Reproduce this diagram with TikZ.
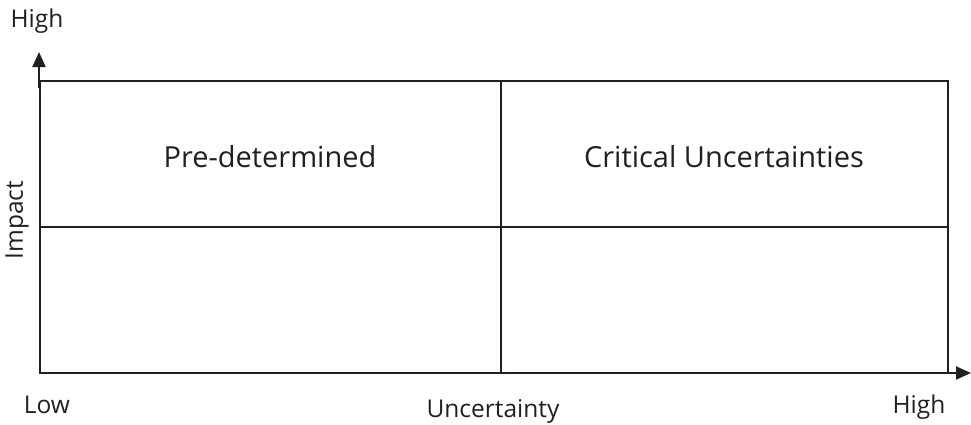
\documentclass[tikz,border=0pt]{standalone}
\usepackage{fontspec}
\setmainfont{Open Sans}
\usetikzlibrary{arrows.meta}
\definecolor{ink}{HTML}{231F20}
\begin{document}
\begin{tikzpicture}[x=1pt,y=-1pt,
  grid/.style={draw=ink,line width=2pt},
  axis/.style={draw=ink,line width=2pt,-{Triangle[length=15pt,width=13pt]}},
  axislabel/.style={text=ink,font=\fontsize{24.5}{28}\selectfont,inner sep=0pt,anchor=base},
  quadlabel/.style={text=ink,font=\fontsize{29}{34}\selectfont,inner sep=0pt,anchor=base}]
\useasboundingbox (0,0) rectangle (971,424);
\coordinate (tl) at (40,81);
\coordinate (br) at (948,373);
\coordinate (tm) at (501,81);
\coordinate (bm) at (501,373);
\coordinate (lm) at (40,227);
\coordinate (rm) at (948,227);
\coordinate (ys) at (39,88);
\coordinate (ye) at (39,52);
\coordinate (xs) at (927,373);
\coordinate (xe) at (971,373);
\draw[grid] (tl) rectangle (br);
\draw[grid] (tm) -- (bm);
\draw[grid] (lm) -- (rm);
\draw[axis] (ys) -- (ye);
\draw[axis] (xs) -- (xe);
\node[quadlabel] (pre) at (270,167) {Pre-determined};
\node[quadlabel] (crit) at (724,167) {Critical Uncertainties};
\node[axislabel] (hightop) at (37,27) {High};
\node[axislabel] (low) at (47,413) {Low};
\node[axislabel] (unc) at (493,417) {Uncertainty};
\node[axislabel] (highr) at (919,413) {High};
\node[axislabel,rotate=90,anchor=center] (imp) at (17,220) {Impact};
\end{tikzpicture}
\end{document}
